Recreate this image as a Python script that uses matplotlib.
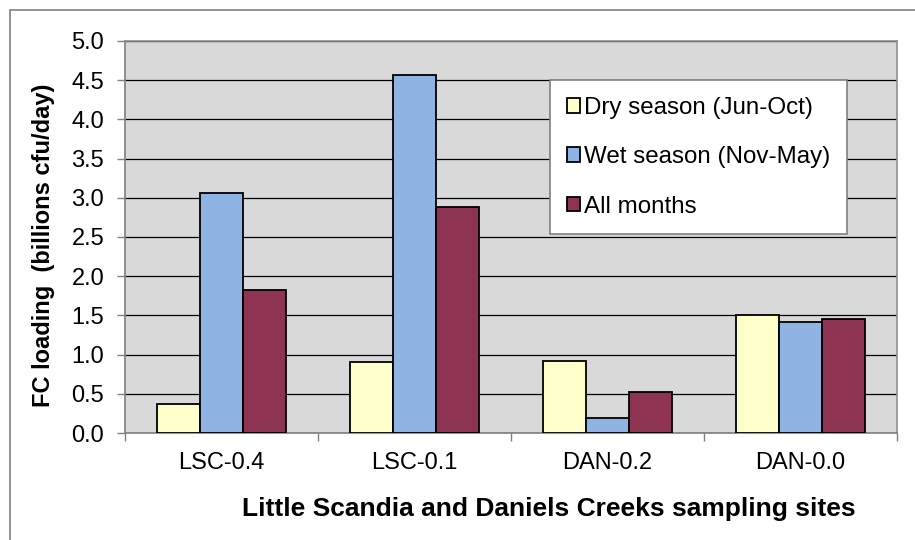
import matplotlib.pyplot as plt
import matplotlib.patches as mpatches
import numpy as np

plt.rcParams['font.family'] = ['Liberation Sans', 'DejaVu Sans']

sites = ["LSC-0.4", "LSC-0.1", "DAN-0.2", "DAN-0.0"]
series_names = ["Dry season (Jun-Oct)", "Wet season (Nov-May)", "All months"]
dry = [0.37, 0.90, 0.92, 1.51]
wet = [3.06, 4.57, 0.19, 1.42]
all_months = [1.82, 2.88, 0.52, 1.46]
colors = ["#FFFFCC", "#8FB4E3", "#8E3452"]

fig = plt.figure(figsize=(9.15, 5.4), dpi=100)
ax = fig.add_axes([125 / 915, 1 - 433 / 540, 772 / 915, 392 / 540])

# outer chart border
fig.patches.append(mpatches.Rectangle((10 / 915, -0.1), 1.1, 1 - 10 / 540 + 0.1,
                                      transform=fig.transFigure, fill=False,
                                      edgecolor="#808080", linewidth=1.2))

x = np.arange(len(sites))
w = 1 / 4.5
for i, (vals, name) in enumerate(zip([dry, wet, all_months], series_names)):
    ax.bar(x + (i - 1) * w, vals, width=w, color=colors[i], edgecolor="black",
           linewidth=1.3, label=name, zorder=3)

ax.set_facecolor("#D9D9D9")
ax.set_xlim(-0.5, len(sites) - 0.5)
ax.set_ylim(0, 5.0)
ax.set_yticks(np.arange(0, 5.01, 0.5))
ax.set_yticklabels([f"{v:.1f}" for v in np.arange(0, 5.01, 0.5)], fontsize=17)
ax.yaxis.grid(True, color="black", linewidth=0.9, zorder=1)
ax.set_axisbelow(True)

ax.set_xticks(x)
ax.set_xticklabels(sites, fontsize=17)
ax.set_xticks(np.arange(-0.5, len(sites)), minor=True)
ax.tick_params(axis="x", which="major", length=0, pad=14)
ax.tick_params(axis="x", which="minor", length=6, width=1, color="#808080")
ax.tick_params(axis="y", length=6, width=1, color="#808080", pad=9)

for side in ["left", "bottom"]:
    ax.spines[side].set_color("#808080")
    ax.spines[side].set_linewidth(1.2)
for side in ["top", "right"]:
    ax.spines[side].set_color("#909090")
    ax.spines[side].set_linewidth(1.2)

ax.set_xlabel("Little Scandia and Daniels Creeks sampling sites", fontsize=19,
              fontweight="bold", labelpad=16)
ax.xaxis.label.set_x(0.549)
ax.set_ylabel("FC loading  (billions cfu/day)", fontsize=17, fontweight="bold",
              labelpad=12)
ax.yaxis.label.set_y(0.48)

leg = ax.legend(loc="upper left", bbox_to_anchor=((550 - 125) / 772, (433 - 80) / 392),
                fontsize=17.4, frameon=True, fancybox=False, handlelength=0.55,
                handleheight=0.55, handletextpad=0.15, labelspacing=1.13,
                borderpad=0.7, borderaxespad=0)
leg.get_frame().set_edgecolor("#808080")
leg.get_frame().set_linewidth(1.2)
leg.get_frame().set_facecolor("white")
leg.get_frame().set_alpha(1)

fig.savefig("out.png", dpi=100)
